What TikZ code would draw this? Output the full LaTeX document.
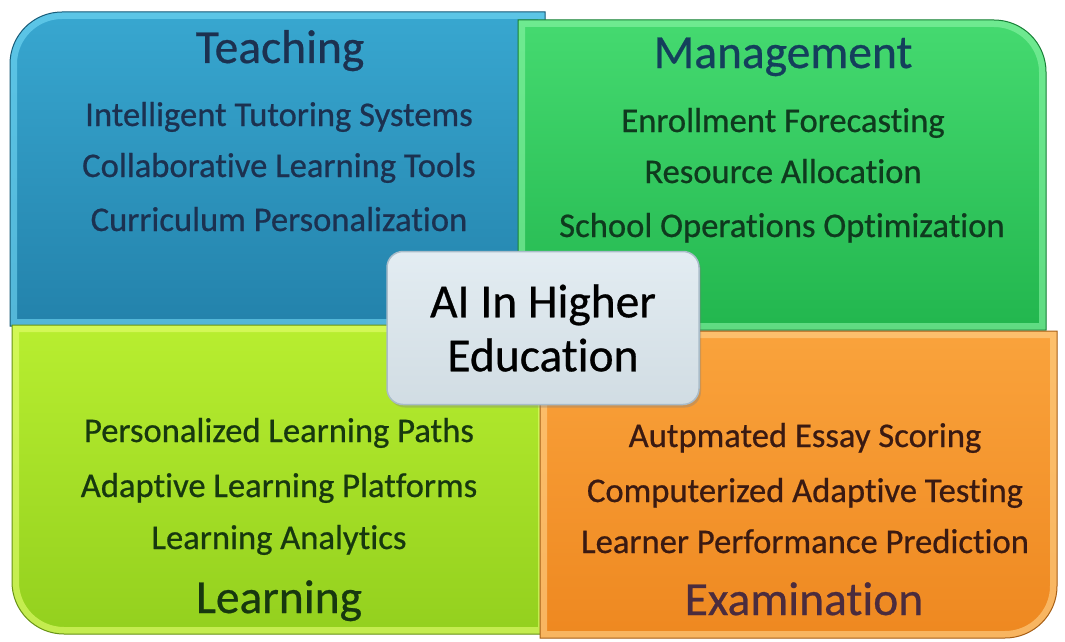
\documentclass[tikz,border=0pt]{standalone}
\usepackage{fontspec}
\setmainfont{Carlito}[Ligatures=NoCommon, FakeBold=0.6]
\usetikzlibrary{shadows}

\definecolor{teachtop}{HTML}{38A7D0}
\definecolor{teachbot}{HTML}{2382AB}
\definecolor{teachlight}{HTML}{74DAF6}
\definecolor{teachink}{HTML}{1C3150}
\definecolor{mantop}{HTML}{45DA70}
\definecolor{manbot}{HTML}{22B64E}
\definecolor{manlight}{HTML}{8AF5A6}
\definecolor{manink}{HTML}{0F3A1E}
\definecolor{mantitle}{HTML}{143F5C}
\definecolor{learntop}{HTML}{B8EE30}
\definecolor{learnbot}{HTML}{93D01E}
\definecolor{learnlight}{HTML}{E4FF70}
\definecolor{learnink}{HTML}{17380F}
\definecolor{examtop}{HTML}{FAA33C}
\definecolor{exambot}{HTML}{EE8820}
\definecolor{examlight}{HTML}{FFD38C}
\definecolor{examink}{HTML}{3A1A12}
\definecolor{examtitle}{HTML}{4B2C3E}
\definecolor{corefill}{HTML}{DCE8EF}
\definecolor{coreedge}{HTML}{A9BCC9}

\tikzset{
  item/.style={anchor=base, font=\fontsize{34.6}{40}\selectfont},
  head/.style={anchor=base, font=\fontsize{47.5}{54}\selectfont},
  corebox/.style={draw=coreedge, line width=1.5pt, top color=corefill!80!white,
    bottom color=corefill!95!black, rounded corners=16pt, align=center,
    minimum width=312pt, minimum height=153pt, inner sep=0pt,
    font=\fontsize{47.5}{54}\selectfont,
    drop shadow={opacity=0.35, shadow xshift=2pt, shadow yshift=-3pt}},
}

% Outlines of the four quarters (image coordinates, y going down)
\newcommand{\teachpath}{(10,326) -- (10,64) arc[start angle=180,end angle=90,radius=52pt] -- (545,12) -- (545,326) -- cycle}
\newcommand{\manpath}{(518,20) -- (994,20) arc[start angle=90,end angle=0,radius=52pt] -- (1046,330) -- (518,330) -- cycle}
\newcommand{\learnpath}{(12,325) -- (545,325) -- (545,634) -- (64,634) arc[start angle=270,end angle=180,radius=52pt] -- cycle}
\newcommand{\exampath}{(540,331) -- (1057,331) -- (1057,586) arc[start angle=0,end angle=-90,radius=52pt] -- (540,638) -- cycle}

\begin{document}
\begin{tikzpicture}[x=1pt,y=-1pt]
\useasboundingbox (0,0) rectangle (1065,642);

% Draw Teaching quarter
\shade[top color=teachtop, bottom color=teachbot] \teachpath;
\begin{scope}
  \clip \teachpath;
  \draw[teachlight, line width=14pt, opacity=0.6] \teachpath;
\end{scope}
\draw[teachbot!70!black, line width=1pt] \teachpath;

% Draw Management quarter
\shade[top color=mantop, bottom color=manbot] \manpath;
\begin{scope}
  \clip \manpath;
  \draw[manlight, line width=14pt, opacity=0.6] \manpath;
\end{scope}
\draw[manbot!70!black, line width=1pt] \manpath;

% Draw Learning quarter
\shade[top color=learntop, bottom color=learnbot] \learnpath;
\begin{scope}
  \clip \learnpath;
  \draw[learnlight, line width=14pt, opacity=0.6] \learnpath;
\end{scope}
\draw[learnbot!70!black, line width=1pt] \learnpath;

% Draw Examination quarter
\shade[top color=examtop, bottom color=exambot] \exampath;
\begin{scope}
  \clip \exampath;
  \draw[examlight, line width=14pt, opacity=0.6] \exampath;
\end{scope}
\draw[exambot!70!black, line width=1pt] \exampath;

% Teaching texts
\node[head, text=teachink] (teach) at (280,63) {Teaching};
\node[item, text=teachink] (teach1) at (279,126) {Intelligent Tutoring Systems};
\node[item, text=teachink] (teach2) at (279,177) {Collaborative Learning Tools};
\node[item, text=teachink] (teach3) at (279,231) {Curriculum Personalization};

% Management texts
\node[head, text=mantitle] (man) at (783,68) {Management};
\node[item, text=manink] (man1) at (783,132) {Enrollment Forecasting};
\node[item, text=manink] (man2) at (783,183) {Resource Allocation};
\node[item, text=manink] (man3) at (782,237) {School Operations Optimization};

% Learning texts
\node[item, text=learnink] (learn1) at (279,442) {Personalized Learning Paths};
\node[item, text=learnink] (learn2) at (279,497) {Adaptive Learning Platforms};
\node[item, text=learnink] (learn3) at (279,549) {Learning Analytics};
\node[head, text=learnink] (learn) at (279,613) {Learning};

% Examination texts
\node[item, text=examink] (exam1) at (805,447) {Autpmated Essay Scoring};
\node[item, text=examink] (exam2) at (805,502) {Computerized Adaptive Testing};
\node[item, text=examink] (exam3) at (805,553) {Learner Performance Prediction};
\node[head, text=examtitle] (exam) at (804,615) {Examination};

% Centre box
\node[corebox] (core) at (543,328) {AI In Higher\\Education};

\end{tikzpicture}
\end{document}
